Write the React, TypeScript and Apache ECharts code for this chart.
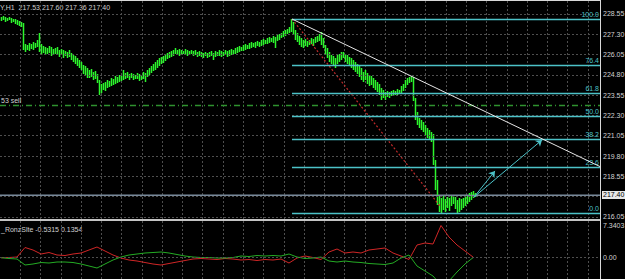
import React, { useEffect, useRef } from 'react';
import * as echarts from 'echarts';

// ---- Price bars (H1), one per slot of the value x-axis ----
const highs = [
  228.36,228.42,228.36,228.30,228.36,228.30,228.24,228.24,228.18,228.12,
  228.05,227.99,226.70,226.64,226.76,226.70,226.82,226.76,226.95,227.38,
  226.70,226.58,226.51,226.45,226.58,226.51,226.39,226.45,226.51,226.33,
  226.39,226.33,226.27,226.21,226.33,226.14,226.02,225.96,225.84,225.71,
  225.59,225.41,225.34,225.22,225.10,225.16,224.98,225.04,224.85,224.48,
  224.24,224.30,224.36,224.48,224.42,224.61,224.54,224.73,224.67,224.79,
  224.73,225.10,224.91,224.98,224.85,224.91,224.85,224.79,224.91,224.85,
  224.79,224.98,224.91,225.10,225.22,225.34,225.47,225.59,225.71,225.84,
  225.90,225.96,226.08,226.14,226.21,226.27,226.33,226.45,226.33,226.39,
  226.33,226.27,226.39,226.33,226.27,226.33,226.27,226.33,226.21,226.27,
  226.21,226.14,226.21,226.14,226.21,226.27,226.14,226.27,226.21,226.33,
  226.27,226.21,226.33,226.27,226.33,226.39,226.33,226.45,226.51,226.58,
  226.51,226.64,226.70,226.64,226.76,226.82,226.76,226.82,226.88,226.82,
  226.95,227.01,226.95,227.07,227.13,227.07,227.19,227.13,227.25,227.32,
  227.38,227.50,227.56,227.62,227.75,228.24,228.05,227.56,227.38,227.19,
  227.07,226.95,227.01,226.88,226.95,227.07,227.01,227.13,227.19,227.32,
  227.44,227.07,226.64,226.45,226.21,226.02,225.96,225.84,226.02,226.08,
  226.21,226.21,226.08,226.02,225.90,225.84,225.71,225.59,225.47,225.34,
  225.22,224.98,225.10,224.91,224.79,224.73,224.61,224.48,224.36,224.24,
  223.99,223.87,223.74,223.80,223.74,223.80,223.87,223.80,223.93,223.87,
  224.11,224.24,224.48,224.61,224.67,224.73,224.67,223.37,222.51,222.14,
  222.02,221.90,221.71,221.53,221.40,221.28,221.16,219.55,218.32,217.40,
  217.21,217.34,217.15,217.27,217.21,217.34,217.40,217.27,217.09,217.21,
  217.15,217.21,217.27,217.40,217.52,217.58,217.64,217.52,
];
const lows = [
  228.12,228.18,228.05,228.12,228.18,227.99,228.05,227.93,227.87,227.81,
  227.75,226.33,226.21,226.33,226.27,226.39,226.33,226.45,226.51,226.21,
  226.02,226.14,226.02,226.08,226.14,225.96,226.02,226.08,226.02,225.90,
  226.02,225.84,225.96,225.84,225.90,225.71,225.59,225.47,225.34,225.22,
  225.10,224.85,224.79,224.61,224.61,224.67,224.48,224.54,224.30,223.56,
  223.68,223.87,223.80,223.99,224.05,224.11,224.17,224.24,224.30,224.36,
  224.42,224.48,224.54,224.61,224.48,224.61,224.48,224.54,224.54,224.42,
  224.48,224.54,224.36,224.67,224.79,224.91,225.04,225.10,225.22,225.34,
  225.47,225.53,225.65,225.78,225.84,225.90,225.96,226.08,226.02,225.96,
  226.02,226.08,226.02,225.96,226.02,226.08,225.96,226.02,225.90,225.96,
  225.90,225.84,225.96,225.84,225.90,225.96,225.71,225.90,225.96,225.96,
  225.90,225.96,226.02,225.90,225.96,226.02,226.08,226.08,226.14,226.21,
  226.27,226.27,226.33,226.39,226.39,226.45,226.51,226.45,226.58,226.51,
  226.58,226.64,226.70,226.70,226.76,226.82,226.76,226.45,226.88,226.95,
  227.07,227.13,227.19,227.32,227.38,227.44,227.25,226.95,226.82,226.64,
  226.51,226.45,226.58,226.51,226.64,226.70,226.58,226.76,226.82,226.88,
  226.64,226.45,226.02,225.84,225.59,225.47,225.34,225.22,225.47,225.59,
  225.71,225.84,225.59,225.47,225.34,225.22,225.10,224.98,224.85,224.67,
  224.48,224.36,224.48,224.24,224.11,224.17,223.99,223.87,223.74,223.56,
  223.25,223.37,223.25,223.43,223.37,223.50,223.50,223.56,223.56,223.62,
  223.68,223.80,223.99,224.17,224.30,224.36,223.19,222.02,221.71,221.53,
  221.40,221.28,221.09,220.91,220.79,220.66,219.25,217.71,216.78,216.35,
  216.29,216.47,216.35,216.60,216.41,216.72,216.84,216.54,216.29,216.35,
  216.47,216.60,216.72,216.84,216.97,217.09,217.21,217.27,
];

// ---- Axis ticks ----
const priceTicks = [228.55, 227.30, 226.05, 224.80, 223.55, 222.30, 221.05, 219.80, 218.55, 217.30, 216.05];
const priceTickLabels = ['228.55', '227.30', '226.05', '224.80', '223.55', '222.30', '221.05', '219.80', '218.55', '', '216.05'];
const priceMin = 215.92;
const priceMax = 229.35;
const slotMax = 300;
const gridStep = 10.135;

// ---- Objects on the chart ----
const bid = 217.40;
const sellLevel = 222.94;
const sellLabel = '53 sell';
const fibLevels = [100.0, 76.4, 61.8, 50.0, 38.2, 23.6, 0.0];
const fibHigh = 228.24;
const fibLow = 216.29;
const fibStartX = 146;
const trendLine = [[146, 228.24], [300, 219.15]];
const redDotLine = [[146, 228.24], [220, 216.72]];
const arrowStart = [237, 217.27];
const arrowEnds = [[247.5, 218.88], [271, 220.79]];
const arrowLabelPos = [[247.5, 219.43], [272.5, 221.16]];
const arrowLabels = ['1', '2'];
const header = 'Y,H1  217.53 217.60 217.36 217.40';

// ---- Indicator window (one value every 4 bars) ----
const indStep = 4;
const indRed = [
  0.00, 0.04, 0.14, 2.04, 1.54, 0.74, 1.04, 0.54, 0.44, 0.74,
  0.94, 1.54, 2.14, 1.34, 0.54, -0.06, -0.46, -0.66, -0.96, -1.26,
  -1.46, -1.16, -0.86, -0.56, -0.26, -0.16, -0.26, -0.36, -0.16, -0.26,
  -0.46, -0.36, -0.56, -0.36, -0.46, -0.26, -1.06, -0.06, 0.34, 0.04,
  -0.36, 1.14, 1.74, 0.94, 1.14, 0.94, 1.54, 1.74, 1.94, 0.94,
  0.34, -0.36, 2.54, 2.94, 2.74, 6.44, 4.14, 2.54, 1.34, 0.14,
];
const indGreen = [
  0.00, -0.16, -0.26, -1.46, -1.26, -0.96, -1.06, -0.86, -0.86, -0.96,
  -1.26, -1.66, -2.06, -1.26, -0.46, 0.14, 0.54, 0.74, 0.94, 1.04,
  1.14, 0.94, 0.64, 0.34, 0.14, 0.04, 0.04, -0.06, -0.06, 0.04,
  0.34, 0.24, 0.44, 0.34, 0.44, 0.34, 0.74, 0.14, -0.16, -0.06,
  0.14, -0.66, -0.86, -0.66, -0.86, -0.96, -1.16, -1.26, -1.36, -1.06,
  -0.06, 0.54, -1.66, -2.66, -3.66, -5.46, -4.66, -2.86, -1.26, 0.00,
];
const indMax = 7.3403;
const indMin = -4.26;
const indHeader = '_RonzSlte -0.5315 0.1354';

const FONT = 'Liberation Sans, Arial, sans-serif';
const GRID_COLOR = '#4e4e4e';
const FIB_COLOR = '#4cc2c8';
const TEXT_COLOR = '#d0d0d0';
const BID_COLOR = '#778899';
const BAR_COLOR = '#2cf52c';

export default function App() {
  const ref = useRef<HTMLDivElement>(null);

  useEffect(() => {
    if (!ref.current) return;
    const chart = echarts.init(ref.current, null, { renderer: 'svg' });

    const xAxisBase = {
      type: 'value',
      min: 0,
      max: slotMax,
      interval: gridStep,
      axisLine: { show: false },
      axisTick: { show: false },
      axisLabel: { show: false },
      splitLine: { show: true, showMinLine: false, showMaxLine: false, lineStyle: { color: GRID_COLOR, type: [2, 2], width: 1 } },
    };

    const barData = highs.map((h, i) => [i + 0.5, lows[i], h]);

    const option: any = {
      animation: false,
      backgroundColor: '#000000',
      grid: [
        { left: 0, top: 1, width: 600, height: 218 },
        { left: 0, top: 221, width: 600, height: 58 },
      ],
      xAxis: [
        { ...xAxisBase, gridIndex: 0 },
        { ...xAxisBase, gridIndex: 1 },
      ],
      yAxis: [
        { type: 'value', gridIndex: 0, min: priceMin, max: priceMax, position: 'right', axisLine: { show: false }, axisTick: { show: false }, axisLabel: { show: false }, splitLine: { show: false } },
        { type: 'value', gridIndex: 1, min: indMin, max: indMax, position: 'right', axisLine: { show: false }, axisTick: { show: false }, axisLabel: { show: false }, splitLine: { show: false } },
      ],
      series: [
        {
          name: 'bid',
          type: 'line',
          xAxisIndex: 0,
          yAxisIndex: 0,
          z: 1,
          symbol: 'none',
          silent: true,
          data: [[0, bid], [slotMax, bid]],
          lineStyle: { color: BID_COLOR, width: 1 },
          markLine: {
            silent: true,
            symbol: ['none', 'none'],
            animation: false,
            emphasis: { disabled: true },
            label: { position: 'end', distance: 3, color: TEXT_COLOR, fontSize: 7, fontFamily: FONT },
            lineStyle: { color: GRID_COLOR, type: [2, 2], width: 1 },
            data: [
              ...priceTicks.map((v, i) => ({
                yAxis: v,
                label: { show: priceTickLabels[i] !== '', formatter: priceTickLabels[i] },
              })),
              {
                yAxis: sellLevel,
                lineStyle: { color: '#2f922f', type: [6, 3, 1, 3], width: 1.4 },
                label: { position: 'insideStartTop', formatter: sellLabel, color: TEXT_COLOR, distance: 1, fontSize: 7 },
              },
              {
                yAxis: bid,
                lineStyle: { color: BID_COLOR, type: 'solid', width: 1 },
                label: {
                  show: true,
                  formatter: bid.toFixed(2),
                  backgroundColor: '#e8e8e8',
                  color: '#000000',
                  padding: [1, 1, 0, 1],
                  distance: 2,
                  fontSize: 7,
                },
              },
            ],
          },
        },
        {
          name: 'bars',
          type: 'custom',
          xAxisIndex: 0,
          yAxisIndex: 0,
          z: 3,
          clip: true,
          silent: true,
          data: barData,
          encode: { x: 0, y: [1, 2] },
          renderItem: (params: any, api: any) => {
            const x = api.value(0);
            const lo = api.coord([x, api.value(1)]);
            const hi = api.coord([x, api.value(2)]);
            const top = Math.round(hi[1]);
            const h = Math.max(1, Math.round(lo[1]) - top);
            return {
              type: 'rect',
              shape: { x: Math.floor(lo[0]) - 0.25, y: top, width: 1.5, height: h },
              style: { fill: BAR_COLOR },
            };
          },
        },
        {
          name: 'redDot',
          type: 'line',
          xAxisIndex: 0,
          yAxisIndex: 0,
          z: 4,
          symbol: 'none',
          silent: true,
          data: redDotLine,
          lineStyle: { color: '#c22a2a', width: 1.2, type: [2, 2] },
        },
        {
          name: 'trend',
          type: 'line',
          xAxisIndex: 0,
          yAxisIndex: 0,
          z: 5,
          symbol: 'none',
          silent: true,
          data: trendLine,
          lineStyle: { color: '#e6e6e6', width: 1 },
          markLine: {
            silent: true,
            symbol: ['none', 'none'],
            animation: false,
            emphasis: { disabled: true },
            lineStyle: { color: FIB_COLOR, type: 'solid', width: 1.4 },
            label: { position: 'insideEndTop', formatter: '{b}', color: FIB_COLOR, fontSize: 7, fontFamily: FONT, distance: 1 },
            data: fibLevels.map((l) => {
              const p = fibLow + ((fibHigh - fibLow) * l) / 100;
              return [{ name: l.toFixed(1), coord: [fibStartX, p] }, { coord: [slotMax, p] }];
            }),
          },
        },
        {
          name: 'arrows',
          type: 'lines',
          coordinateSystem: 'cartesian2d',
          xAxisIndex: 0,
          yAxisIndex: 0,
          z: 6,
          silent: true,
          symbol: ['none', 'arrow'],
          symbolSize: 6,
          lineStyle: { color: FIB_COLOR, width: 1, opacity: 1 },
          data: arrowEnds.map((e) => ({ coords: [arrowStart, e] })),
        },
        {
          name: 'arrowLabels',
          type: 'scatter',
          xAxisIndex: 0,
          yAxisIndex: 0,
          z: 6,
          silent: true,
          symbolSize: 1,
          itemStyle: { opacity: 0 },
          data: arrowLabelPos,
          label: {
            show: true,
            position: 'inside',
            formatter: (p: any) => arrowLabels[p.dataIndex],
            color: FIB_COLOR,
            fontSize: 7,
            fontWeight: 'bold',
            fontFamily: FONT,
          },
        },
        {
          name: 'indRed',
          type: 'line',
          xAxisIndex: 1,
          yAxisIndex: 1,
          z: 3,
          symbol: 'none',
          silent: true,
          data: indRed.map((v, k) => [k * indStep + 0.5, v]),
          lineStyle: { color: '#d02626', width: 1 },
          markLine: {
            silent: true,
            symbol: ['none', 'none'],
            animation: false,
            emphasis: { disabled: true },
            lineStyle: { color: GRID_COLOR, type: [2, 2], width: 1 },
            label: { position: 'end', distance: 3, color: TEXT_COLOR, fontSize: 7, fontFamily: FONT, formatter: '0.00' },
            data: [{ yAxis: 0 }],
          },
        },
        {
          name: 'indGreen',
          type: 'line',
          xAxisIndex: 1,
          yAxisIndex: 1,
          z: 3,
          symbol: 'none',
          silent: true,
          data: indGreen.map((v, k) => [k * indStep + 0.5, v]),
          lineStyle: { color: '#24ac24', width: 1 },
        },
      ],
      graphic: [
        { type: 'rect', shape: { x: 0, y: 0, width: 600, height: 1 }, style: { fill: '#d8d8d8' }, silent: true },
        { type: 'rect', shape: { x: 0, y: 219, width: 600, height: 2 }, style: { fill: '#c4c4c4' }, silent: true },
        { type: 'rect', shape: { x: 600, y: 0, width: 1, height: 279 }, style: { fill: '#d8d8d8' }, silent: true },
        {
          type: 'text', x: 0, y: 7, silent: true,
          style: { text: header, fill: TEXT_COLOR, font: `7px ${FONT}`, textVerticalAlign: 'middle' },
        },
        {
          type: 'text', x: 1, y: 229, silent: true,
          style: { text: indHeader, fill: TEXT_COLOR, font: `7px ${FONT}`, textVerticalAlign: 'middle' },
        },
        {
          type: 'text', x: 603, y: 225.5, silent: true,
          style: { text: indMax.toFixed(4), fill: TEXT_COLOR, font: `7px ${FONT}`, textVerticalAlign: 'middle' },
        },
      ],
    };

    chart.setOption(option);
    return () => chart.dispose();
  }, []);

  return (
    <div
      ref={ref}
      style={{ position: 'fixed', left: 0, top: 0, width: 625, height: 279, background: '#000' }}
    />
  );
}
